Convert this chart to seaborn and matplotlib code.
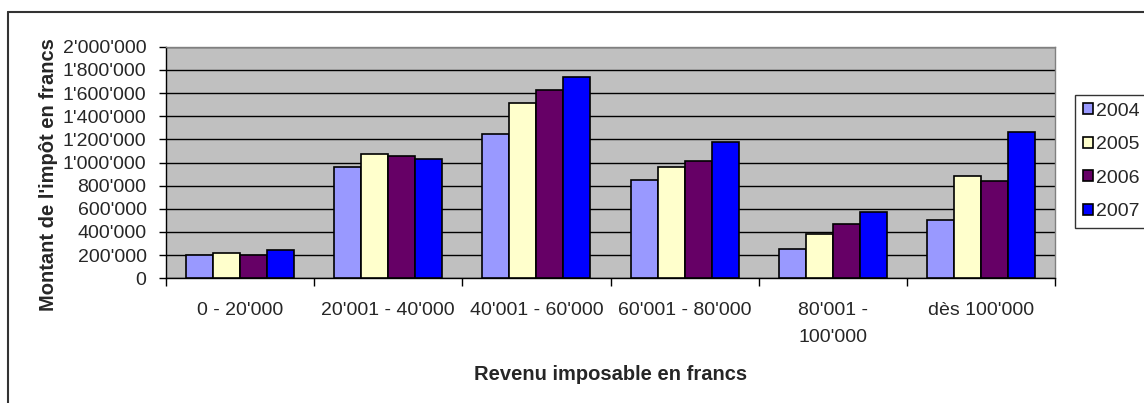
import matplotlib
matplotlib.use('Agg')
import matplotlib.pyplot as plt
from matplotlib.ticker import FuncFormatter, MultipleLocator, FixedLocator
from matplotlib.lines import Line2D
import seaborn as sns
import pandas as pd
import numpy as np

# Data (tax amount in francs)
tranches = ["0 - 20'000", "20'001 - 40'000", "40'001 - 60'000",
            "60'001 - 80'000", "80'001 -\n100'000", "dès 100'000"]
annees = ['2004', '2005', '2006', '2007']
montant_2004 = [200000, 960000, 1250000, 850000, 250000, 500000]
montant_2005 = [215000, 1070000, 1510000, 960000, 380000, 880000]
montant_2006 = [205000, 1060000, 1625000, 1015000, 465000, 840000]
montant_2007 = [245000, 1030000, 1735000, 1180000, 575000, 1265000]
couleurs = ['#9999FF', '#FFFFCC', '#660066', '#0000FF']

# Long table for seaborn
rows = []
for annee, valeurs in zip(annees, [montant_2004, montant_2005, montant_2006, montant_2007]):
    for t, v in zip(tranches, valeurs):
        rows.append({'tranche': t, 'annee': annee, 'montant': v})
df = pd.DataFrame(rows)

sns.set_style('white')
plt.rcParams['font.family'] = ['Liberation Sans', 'DejaVu Sans']

W, H = 1144, 403
fig = plt.figure(figsize=(W / 100, H / 100), dpi=100)
ax = fig.add_axes([166 / W, 1 - 278.3 / H, (1055 - 166) / W, (278.3 - 46.7) / H])
ax.set_facecolor('#C0C0C0')

sns.barplot(data=df, x='tranche', y='montant', hue='annee', order=tranches,
            hue_order=annees, palette=couleurs, edgecolor='black', linewidth=1.2,
            width=0.73, gap=0, saturation=1, legend=True, ax=ax, zorder=3)

# Y axis
ax.set_ylim(0, 2000000)
ax.yaxis.set_major_locator(MultipleLocator(200000))
ax.yaxis.set_major_formatter(FuncFormatter(lambda v, p: f"{int(v):,}".replace(',', "'")))
ax.grid(axis='y', color='black', linewidth=1, zorder=0)
ax.set_axisbelow(True)
ax.tick_params(axis='y', direction='out', length=5, width=1, color='black',
               pad=9, labelsize=14, left=True)

# X axis: labels at group centers, tick marks at group boundaries
ax.set_xlim(-0.5, 5.5)
ax.xaxis.set_minor_locator(FixedLocator(np.arange(-0.5, 6, 1)))
ax.tick_params(axis='x', which='major', length=0, pad=17, labelsize=14)
ax.tick_params(axis='x', which='minor', direction='out', length=6, width=1,
               color='black', bottom=True)
for lbl in ax.get_xticklabels():
    lbl.set_linespacing(1.75)

for side in ['left', 'bottom']:
    ax.spines[side].set_color('black')
    ax.spines[side].set_linewidth(1)
for side in ['top', 'right']:
    ax.spines[side].set_color('#808080')
    ax.spines[side].set_linewidth(1)

ax.set_xlabel('Revenu imposable en francs', fontsize=14.5, fontweight='bold')
ax.set_ylabel("Montant de l'impôt en francs", fontsize=14.5, fontweight='bold')
ax.xaxis.set_label_coords(0.5, -0.375)
ax.yaxis.set_label_coords(-0.1218, 0.4466)

# Legend on the right
handles, labels = ax.get_legend_handles_labels()
ax.get_legend().remove()
leg = fig.legend(handles, labels, loc='upper left', bbox_to_anchor=(1075 / W, 1 - 95 / H),
                 fontsize=14, frameon=True, fancybox=False, edgecolor='black',
                 borderpad=0.4, labelspacing=0.85, handlelength=0.5,
                 handleheight=0.5, handletextpad=0.2, borderaxespad=0)
leg.get_frame().set_linewidth(1)

# Outer chart frame (left and top edges visible)
fig.add_artist(Line2D([8 / W, 8 / W], [0, 1 - 12 / H], color='#333333', linewidth=1.5))
fig.add_artist(Line2D([8 / W, 1], [1 - 12 / H, 1 - 12 / H], color='#333333', linewidth=1.5))

fig.savefig('out.png', dpi=100)
